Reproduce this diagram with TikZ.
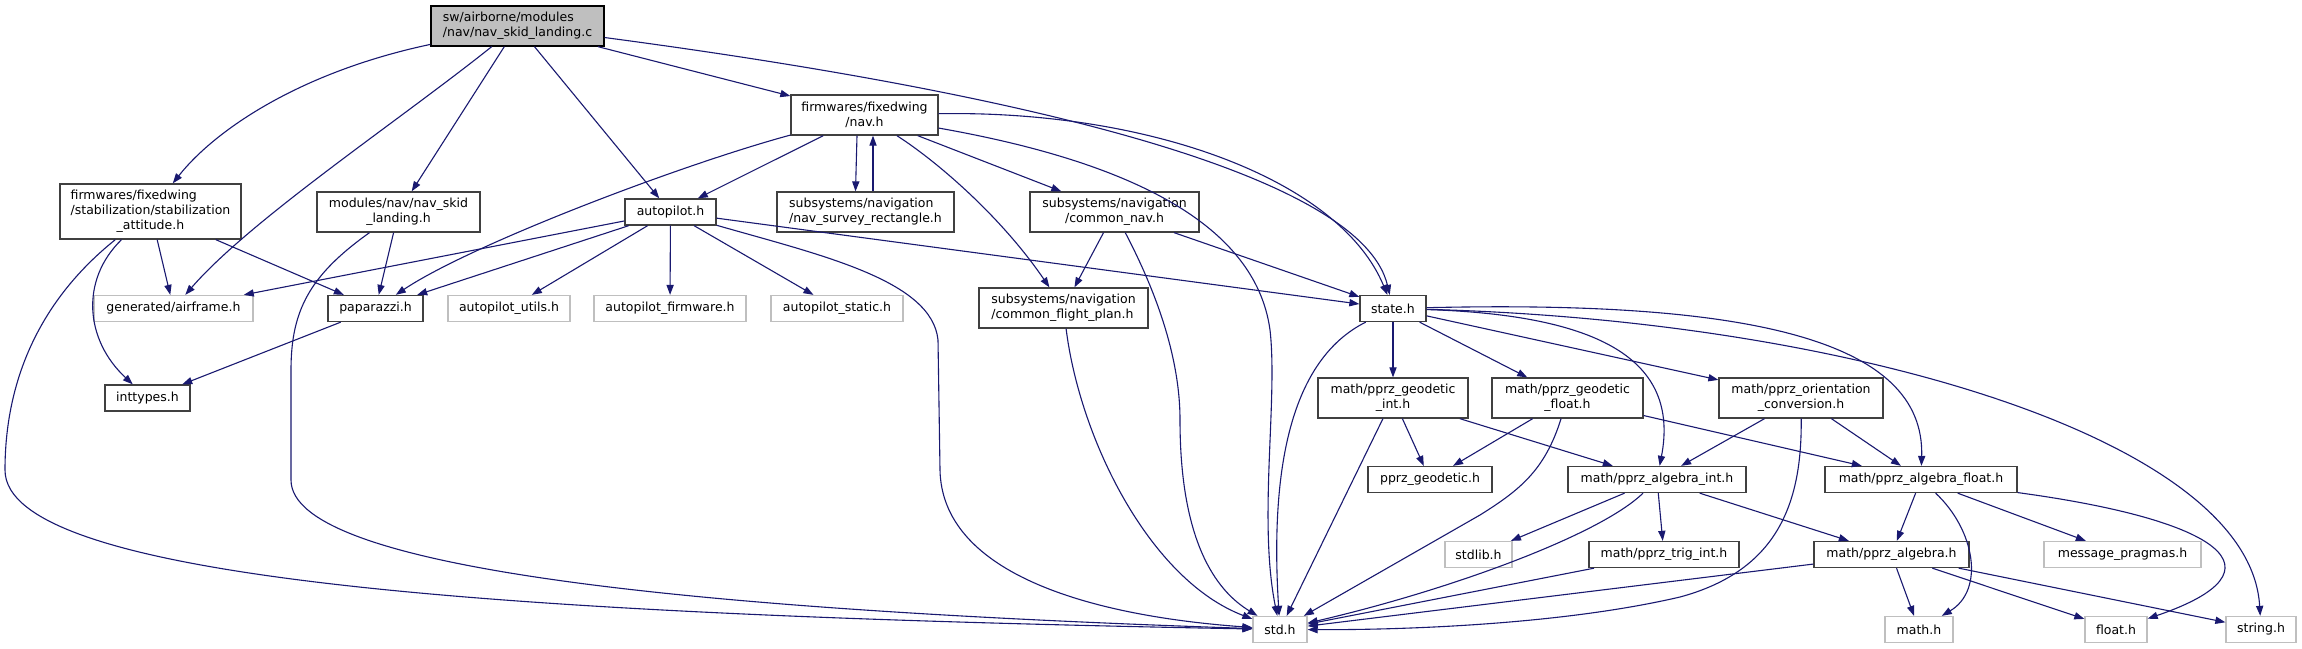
\documentclass[tikz,border=0pt]{standalone}
\usepackage{fontspec}
\setmainfont{DejaVu Sans}
\usepackage{tikz}
\usetikzlibrary{arrows.meta}
\definecolor{edgeblue}{HTML}{191970}
\definecolor{boxline}{HTML}{404040}
\definecolor{extgray}{HTML}{BFBFBF}
\definecolor{rootfill}{HTML}{BFBFBF}
\newcommand\doxfont{\fontsize{6.25}{7.5}\selectfont}
\tikzset{
  ar/.style={-{Triangle[length=5pt,width=3.6pt]},edgeblue,line width=0.55pt},
  box/.style={draw=boxline,line width=0.65pt,fill=white,align=center,inner sep=0pt,font=\doxfont,minimum height=13pt},
  box2/.style={box,minimum height=20pt},
  ext/.style={box,draw=extgray},
  root/.style={box2,fill=rootfill,draw=black}
}

\begin{document}
\begin{tikzpicture}[x=0.5pt,y=-0.5pt]
\fill[white] (0,0) rectangle (2302,648);
\useasboundingbox (0,0) rectangle (2302,648);
% files
\node[root,minimum width=86.5pt,align=left] (root) at (517.5,26) {sw/airborne/modules\\/nav/nav\_skid\_landing.c};
\node[box,minimum width=90.5pt,minimum height=27.5pt] (stabatt) at (150.5,211.5)
  {\begin{tabular}{@{}l@{}}firmwares/fixedwing\\/stabilization/stabilization\\\multicolumn{1}{@{}c@{}}{\_attitude.h}\end{tabular}};
\node[box2,minimum width=81.5pt] (navskid) at (398.5,212) {modules/nav/nav\_skid\\\_landing.h};
\node[box,minimum width=45.5pt] (autopilot) at (670.5,212) {autopilot.h};
\node[ext,minimum width=79.5pt] (airframe) at (173.5,308.5) {generated/airframe.h};
\node[box,minimum width=47.5pt] (paparazzi) at (375.5,308.5) {paparazzi.h};
\node[ext,minimum width=61pt] (aputils) at (509,308.5) {autopilot\_utils.h};
\node[ext,minimum width=76pt] (apfirmware) at (670,308.5) {autopilot\_firmware.h};
\node[ext,minimum width=66pt] (apstatic) at (837,308.5) {autopilot\_static.h};
\node[box2,minimum width=73.5pt] (navh) at (864.5,115) {firmwares/fixedwing\\/nav.h};
\node[box2,minimum width=88.5pt,align=left] (navsurvey) at (865.5,212) {subsystems/navigation\\/nav\_survey\_rectangle.h};
\node[box2,minimum width=84.5pt] (commonnav) at (1114.5,212) {subsystems/navigation\\/common\_nav.h};
\node[box2,minimum width=84.5pt,align=left] (flightplan) at (1063.5,308) {subsystems/navigation\\/common\_flight\_plan.h};
\node[box,minimum width=33pt] (state) at (1393,308.5) {state.h};
\node[box,minimum width=42.5pt] (inttypes) at (147.5,398) {inttypes.h};
\node[box2,minimum width=75pt] (geoint) at (1393,398) {math/pprz\_geodetic\\\_int.h};
\node[box2,minimum width=75.5pt] (geofloat) at (1567.5,398) {math/pprz\_geodetic\\\_float.h};
\node[box2,minimum width=82pt] (orient) at (1801,398) {math/pprz\_orientation\\\_conversion.h};
\node[box,minimum width=62pt] (pprzgeo) at (1430,479.5) {pprz\_geodetic.h};
\node[box,minimum width=89pt] (algint) at (1657,479.5) {math/pprz\_algebra\_int.h};
\node[box,minimum width=96pt] (algfloat) at (1921,479.5) {math/pprz\_algebra\_float.h};
\node[ext,minimum width=33.5pt] (stdlib) at (1478.5,554.5) {stdlib.h};
\node[box,minimum width=75pt] (trigint) at (1664,554.5) {math/pprz\_trig\_int.h};
\node[box,minimum width=77.5pt] (pprzalg) at (1891.5,554.5) {math/pprz\_algebra.h};
\node[ext,minimum width=78.5pt] (pragmas) at (2122.5,554.5) {message\_pragmas.h};
\node[ext,minimum width=27pt] (stdh) at (1280,629.5) {std.h};
\node[ext,minimum width=34pt] (mathh) at (1919,629.5) {math.h};
\node[ext,minimum width=31pt] (floath) at (2116,629.5) {float.h};
\node[ext,minimum width=35pt] (stringh) at (2261,629.5) {string.h};
% includes of the source file
\draw[ar] (root) .. controls (300,72) and (215,130) .. (stabatt);
\draw[ar] (root) .. controls (400,120) and (250,220) .. (airframe);
\draw[ar] (root) -- (navskid);
\draw[ar] (root) -- (autopilot);
\draw[ar] (root) -- (navh);
\draw[ar] (root) .. controls (1000,90) and (1360,170) .. (state);
% stabilization and nav_skid
\draw[ar] (stabatt) -- (airframe);
\draw[ar] (stabatt) -- (paparazzi);
\draw[ar] (stabatt) .. controls (80,280) and (85,340) .. (inttypes);
\draw[ar] (stabatt) .. controls (40,300) and (5,380) .. (5,470) .. controls (5,580) and (500,615) .. (stdh);
\draw[ar] (navskid) -- (paparazzi);
\draw[ar] (navskid) .. controls (310,275) and (291,310) .. (291,370) -- (291,480) .. controls (291,570) and (700,610) .. (stdh);
\draw[ar] (paparazzi) -- (inttypes);
% autopilot
\draw[ar] (autopilot) -- (airframe);
\draw[ar] (autopilot) -- (paparazzi);
\draw[ar] (autopilot) -- (aputils);
\draw[ar] (autopilot) -- (apfirmware);
\draw[ar] (autopilot) -- (apstatic);
\draw[ar] (autopilot) -- (state);
\draw[ar] (autopilot) .. controls (820,255) and (932,280) .. (938,340) -- (940,470) .. controls (942,570) and (1080,615) .. (stdh);
% nav.h
\draw[ar] (navh) -- (autopilot);
\draw[ar] (navh) .. controls (680,165) and (470,245) .. (paparazzi);
\draw[ar] ([xshift=-3.75pt]navh.south) -- ([xshift=-5pt]navsurvey.north);
\draw[ar] ([xshift=3.75pt]navsurvey.north) -- ([xshift=4.25pt]navh.south);
\draw[ar] (navh) .. controls (935,160) and (1000,215) .. (flightplan);
\draw[ar] (navh) -- (commonnav);
\draw[ar] (navh) .. controls (1150,110) and (1340,180) .. (state);
\draw[ar] (navh) .. controls (1120,160) and (1255,220) .. (1270,330) .. controls (1278,400) and (1258,520) .. (stdh);
\draw[ar] (commonnav) -- (flightplan);
\draw[ar] (commonnav) -- (state);
\draw[ar] (commonnav) .. controls (1150,280) and (1180,350) .. (1180,420) .. controls (1180,540) and (1215,590) .. (stdh);
\draw[ar] (flightplan) .. controls (1080,440) and (1150,580) .. (stdh);
% state.h
\draw[ar] (state) .. controls (1290,360) and (1270,470) .. (stdh);
\draw[ar] (state) -- (geoint);
\draw[ar] (state) -- (geofloat);
\draw[ar] (state) -- (orient);
\draw[ar] (state) .. controls (1600,315) and (1680,360) .. (algint);
\draw[ar] (state) .. controls (1750,300) and (1925,340) .. (algfloat);
\draw[ar] (state) .. controls (1850,320) and (2250,440) .. (stringh);
% math
\draw[ar] (geoint) -- (pprzgeo);
\draw[ar] (geoint) -- (algint);
\draw[ar] (geoint) -- (stdh);
\draw[ar] (geofloat) -- (pprzgeo);
\draw[ar] (geofloat) -- (algfloat);
\draw[ar] (geofloat) .. controls (1545,470) and (1520,490) .. (1480,515) -- (stdh);
\draw[ar] (orient) -- (algint);
\draw[ar] (orient) -- (algfloat);
\draw[ar] (orient) .. controls (1802,500) and (1780,570) .. (1680,597) .. controls (1560,625) and (1400,630) .. (stdh);
\draw[ar] (algint) -- (stdlib);
\draw[ar] (algint) -- (trigint);
\draw[ar] (algint) -- (pprzalg);
\draw[ar] (algint) .. controls (1600,535) and (1450,590) .. (stdh);
\draw[ar] (algfloat) -- (pprzalg);
\draw[ar] (algfloat) .. controls (1975,530) and (1985,590) .. (mathh);
\draw[ar] (algfloat) -- (pragmas);
\draw[ar] (algfloat) .. controls (2220,520) and (2290,570) .. (floath);
\draw[ar] (trigint) -- (stdh);
\draw[ar] (pprzalg) -- (stdh);
\draw[ar] (pprzalg) -- (mathh);
\draw[ar] (pprzalg) -- (floath);
\draw[ar] (pprzalg) -- (stringh);
\end{tikzpicture}
\end{document}
